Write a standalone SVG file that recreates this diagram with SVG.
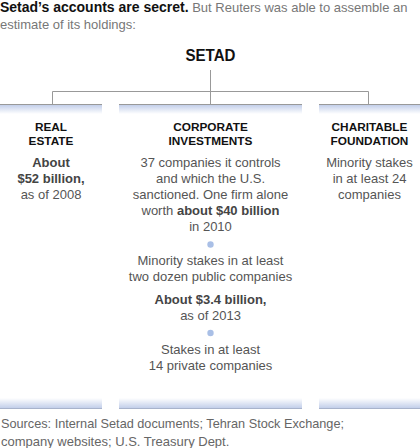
<svg xmlns="http://www.w3.org/2000/svg" width="420" height="448" viewBox="0 0 420 448">
<style>
  text { font-family: "Liberation Sans", Arial, sans-serif; }
  .title-b { font-weight: bold; font-size: 14px; fill: #111; }
  .title-r { font-size: 13px; fill: #777; }
  .root { font-weight: bold; font-size: 16.5px; fill: #111; text-anchor: middle; }
  .head { font-weight: bold; font-size: 11.8px; fill: #111; text-anchor: middle; }
  .body { font-size: 13px; fill: #555; text-anchor: middle; }
  .b { font-weight: bold; fill: #444; }
  .src { font-size: 13px; fill: #666; }
  .conn { stroke: #999; stroke-width: 1; fill: none; }
  .band { stroke: #999; stroke-width: 1; }
  .dot { fill: #a9bfe6; }
</style>
<defs>
  <linearGradient id="topg" x1="0" y1="0" x2="0" y2="1">
    <stop offset="0" stop-color="#c3cfea"/>
    <stop offset="1" stop-color="#ffffff"/>
  </linearGradient>
  <linearGradient id="botg" x1="0" y1="0" x2="0" y2="1">
    <stop offset="0" stop-color="#ffffff"/>
    <stop offset="1" stop-color="#c3cfea"/>
  </linearGradient>
</defs>
<rect width="420" height="448" fill="#fff"/>

<g id="title">
  <text x="0" y="12"><tspan class="title-b">Setad’s accounts are secret.</tspan><tspan class="title-r"> But Reuters was able to assemble an</tspan></text>
  <text x="0" y="29" class="title-r">estimate of its holdings:</text>
</g>

<g id="connectors">
  <line class="conn" x1="210.5" y1="70" x2="210.5" y2="104"/>
  <polyline class="conn" points="52.5,104 52.5,91.5 368.5,91.5 368.5,104"/>
</g>

<g id="setad">
  <text x="210.5" y="61" class="root" textLength="50" lengthAdjust="spacingAndGlyphs">SETAD</text>
</g>

<g id="real-estate">
  <rect x="0" y="105" width="102" height="9" fill="url(#topg)"/>
  <line class="band" x1="0" y1="104.5" x2="102" y2="104.5"/>
  <rect x="0" y="398" width="102" height="10" fill="url(#botg)"/>
  <line x1="0" y1="408.5" x2="102" y2="408.5" stroke="#a8b3cc"/>
  <text x="51" y="131" class="head">REAL</text>
  <text x="51" y="145" class="head">ESTATE</text>
  <text x="51" y="167" class="body b">About</text>
  <text x="51" y="183" class="body b">$52 billion,</text>
  <text x="51" y="199" class="body">as of 2008</text>
</g>

<g id="corporate-investments">
  <rect x="119" y="105" width="183" height="9" fill="url(#topg)"/>
  <line class="band" x1="119" y1="104.5" x2="302" y2="104.5"/>
  <rect x="119" y="398" width="183" height="10" fill="url(#botg)"/>
  <line x1="119" y1="408.5" x2="302" y2="408.5" stroke="#a8b3cc"/>
  <text x="210.5" y="131" class="head">CORPORATE</text>
  <text x="210.5" y="145" class="head">INVESTMENTS</text>
  <text x="210.5" y="167" class="body">37 companies it controls</text>
  <text x="210.5" y="183" class="body">and which the U.S.</text>
  <text x="210.5" y="199" class="body">sanctioned. One firm alone</text>
  <text x="210.5" y="215" class="body">worth <tspan class="b">about $40 billion</tspan></text>
  <text x="210.5" y="231" class="body">in 2010</text>
  <circle class="dot" cx="210.5" cy="244.5" r="3.2"/>
  <text x="210.5" y="265" class="body">Minority stakes in at least</text>
  <text x="210.5" y="281" class="body">two dozen public companies</text>
  <text x="210.5" y="304" class="body b">About $3.4 billion,</text>
  <text x="210.5" y="320" class="body">as of 2013</text>
  <circle class="dot" cx="210.5" cy="333" r="3.2"/>
  <text x="210.5" y="354" class="body">Stakes in at least</text>
  <text x="210.5" y="370" class="body">14 private companies</text>
</g>

<g id="charitable-foundation">
  <rect x="319" y="105" width="101" height="9" fill="url(#topg)"/>
  <line class="band" x1="319" y1="104.5" x2="420" y2="104.5"/>
  <rect x="319" y="398" width="101" height="10" fill="url(#botg)"/>
  <line x1="319" y1="408.5" x2="420" y2="408.5" stroke="#a8b3cc"/>
  <text x="369.5" y="131" class="head">CHARITABLE</text>
  <text x="369.5" y="145" class="head">FOUNDATION</text>
  <text x="369.5" y="167" class="body">Minority stakes</text>
  <text x="369.5" y="183" class="body">in at least 24</text>
  <text x="369.5" y="199" class="body">companies</text>
</g>

<g id="sources">
  <text x="1" y="428" class="src" textLength="343" lengthAdjust="spacingAndGlyphs">Sources: Internal Setad documents; Tehran Stock Exchange;</text>
  <text x="1" y="446" class="src">company websites; U.S. Treasury Dept.</text>
</g>
</svg>
